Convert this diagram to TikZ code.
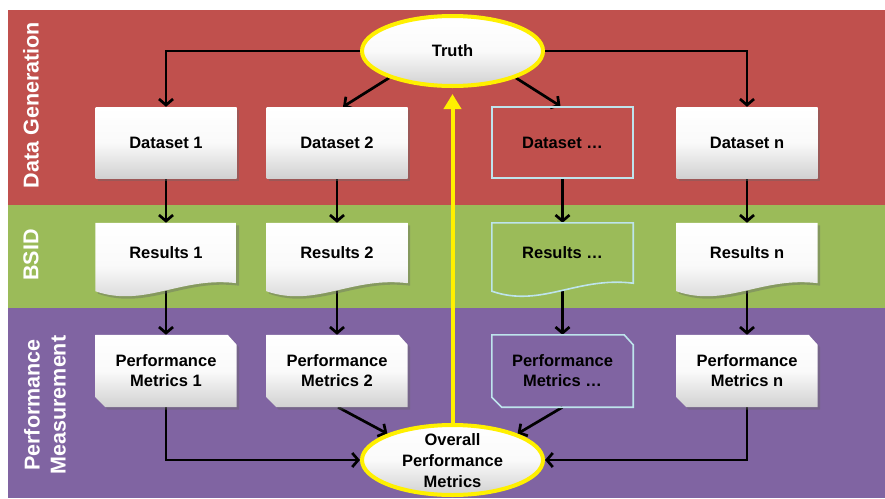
\documentclass[tikz,border=0pt]{standalone}
\usepackage{fontspec}
\setmainfont{Liberation Sans}
\usetikzlibrary{arrows.meta,shadows,calc,shapes.geometric}

\definecolor{bandred}{RGB}{192,80,77}
\definecolor{bandgreen}{RGB}{155,187,89}
\definecolor{bandpurple}{RGB}{128,100,162}
\definecolor{hilite}{RGB}{255,240,0}
\definecolor{ghostblue}{RGB}{190,228,236}

\pgfdeclarelayer{bands}
\pgfdeclarelayer{links}
\pgfdeclarelayer{shapes}
\pgfsetlayers{bands,links,shapes,main}

% outline of a flowchart "document" symbol around a node
\newcommand\docoutline[1]{(#1.north west) -- (#1.north east) -- (#1.south east)
  .. controls ($(#1.south east)+(-56,-7)$) and ($(#1.south west)+(49,25)$) .. ($(#1.south west)+(0,8)$) -- cycle}
% outline of a box with two snipped corners
\newcommand\snipoutline[1]{(#1.north west) -- ($(#1.north east)+(-9,0)$) -- ($(#1.north east)+(0,10)$)
  -- (#1.south east) -- ($(#1.south west)+(10,0)$) -- ($(#1.south west)+(0,-10)$) -- cycle}

\tikzset{
  link/.style={draw=black, line width=2.7pt, -{Straight Barb[length=6pt,width=14pt]}},
  feedback/.style={draw=hilite, line width=4pt, -{Triangle[length=15pt,width=17pt]}},
  paper/.style={top color=white, bottom color=black!18, middle color=black!2,
    drop shadow={shadow xshift=2.5pt, shadow yshift=-2.5pt, opacity=0.4, fill=black!60}},
  dimbox/.style={draw=ghostblue, line width=1.6pt},
  slot/.style={rectangle, minimum width=141pt, inner sep=0pt, align=center, text=black},
  oval/.style={ellipse, minimum width=181pt, minimum height=70pt, inner sep=0pt,
    draw=hilite, line width=4pt, top color=white, bottom color=black!18, middle color=black!2},
  bandlabel/.style={text=white, rotate=90, align=center,
    font=\bfseries\fontsize{21.5}{26}\selectfont},
}

\begin{document}
\begin{tikzpicture}[x=1pt, y=-1pt, font=\bfseries\fontsize{16.5}{20}\selectfont]
\useasboundingbox (0,0) rectangle (885,498);

% horizontal bands
\begin{pgfonlayer}{bands}
  \fill[white] (0,0) rectangle (885,498);
  \fill[bandred]    (8,10)  rectangle (885,205);
  \fill[bandgreen]  (8,205) rectangle (885,308);
  \fill[bandpurple] (8,308) rectangle (885,498);
\end{pgfonlayer}

\node[bandlabel] (lgen)  at (31,105) {Data Generation};
\node[bandlabel] (lbsid) at (31,255) {BSID};
\node[bandlabel] (lperf) at (45,405) {Performance\\Measurement};

% truth
\node[oval] (truth) at (452.5,51) {Truth};

% datasets
\node[slot, minimum height=71pt, paper]  (d1) at (166,142.5) {Dataset 1};
\node[slot, minimum height=71pt, paper]  (d2) at (337,142.5) {Dataset 2};
\node[slot, minimum height=71pt, dimbox] (d3) at (562.5,142.5) {Dataset …};
\node[slot, minimum height=71pt, paper]  (dn) at (747,142.5) {Dataset n};

% results
\node[slot, minimum height=60pt] (r1) at (166,253) {Results 1};
\node[slot, minimum height=60pt] (r2) at (337,253) {Results 2};
\node[slot, minimum height=60pt] (r3) at (562.5,253) {Results …};
\node[slot, minimum height=60pt] (rn) at (747,253) {Results n};

% performance metrics
\node[slot, minimum height=72pt] (m1) at (166,371) {Performance\\Metrics 1};
\node[slot, minimum height=72pt] (m2) at (337,371) {Performance\\Metrics 2};
\node[slot, minimum height=72pt] (m3) at (562.5,371) {Performance\\Metrics …};
\node[slot, minimum height=72pt] (mn) at (747,371) {Performance\\Metrics n};

% overall metrics
\node[oval] (all) at (452.5,460) {};
\node[align=center, inner sep=0pt, font=\bfseries\fontsize{16.5}{21}\selectfont] (alltext) at (452.5,461) {Overall\\Performance\\Metrics};

\begin{pgfonlayer}{shapes}
  \path[paper]  \docoutline{r1};
  \path[paper]  \docoutline{r2};
  \path[dimbox] \docoutline{r3};
  \path[paper]  \docoutline{rn};
  \path[paper]  \snipoutline{m1};
  \path[paper]  \snipoutline{m2};
  \path[dimbox] \snipoutline{m3};
  \path[paper]  \snipoutline{mn};
\end{pgfonlayer}

\begin{pgfonlayer}{links}
  \draw[link] (truth.west) -| (d1.north);
  \draw[link] (truth.east) -| (dn.north);
  \draw[link] (truth.203) -- ($(d2.north)+(6,0)$);
  \draw[link] (truth.-23) -- ($(d3.north)+(-2,0)$);
  \foreach \c in {1,2,3,n} {
    \draw[link] (d\c.south) -- (r\c.north);
    % start on the wavy lower edge of the document symbol
    \draw[link] ($(r\c.south)+(0,7.5)$) -- (m\c.north);
  }
  \draw[link] (m1.south) |- (all.west);
  \draw[link] (mn.south) |- (all.east);
  \draw[link] ($(m2.south)+(1,0)$) -- (all.158);
  \draw[link] (m3.south) -- (all.22);
  \draw[feedback, shorten >=6pt] (all.north) -- (truth.south);
\end{pgfonlayer}
\end{tikzpicture}
\end{document}
